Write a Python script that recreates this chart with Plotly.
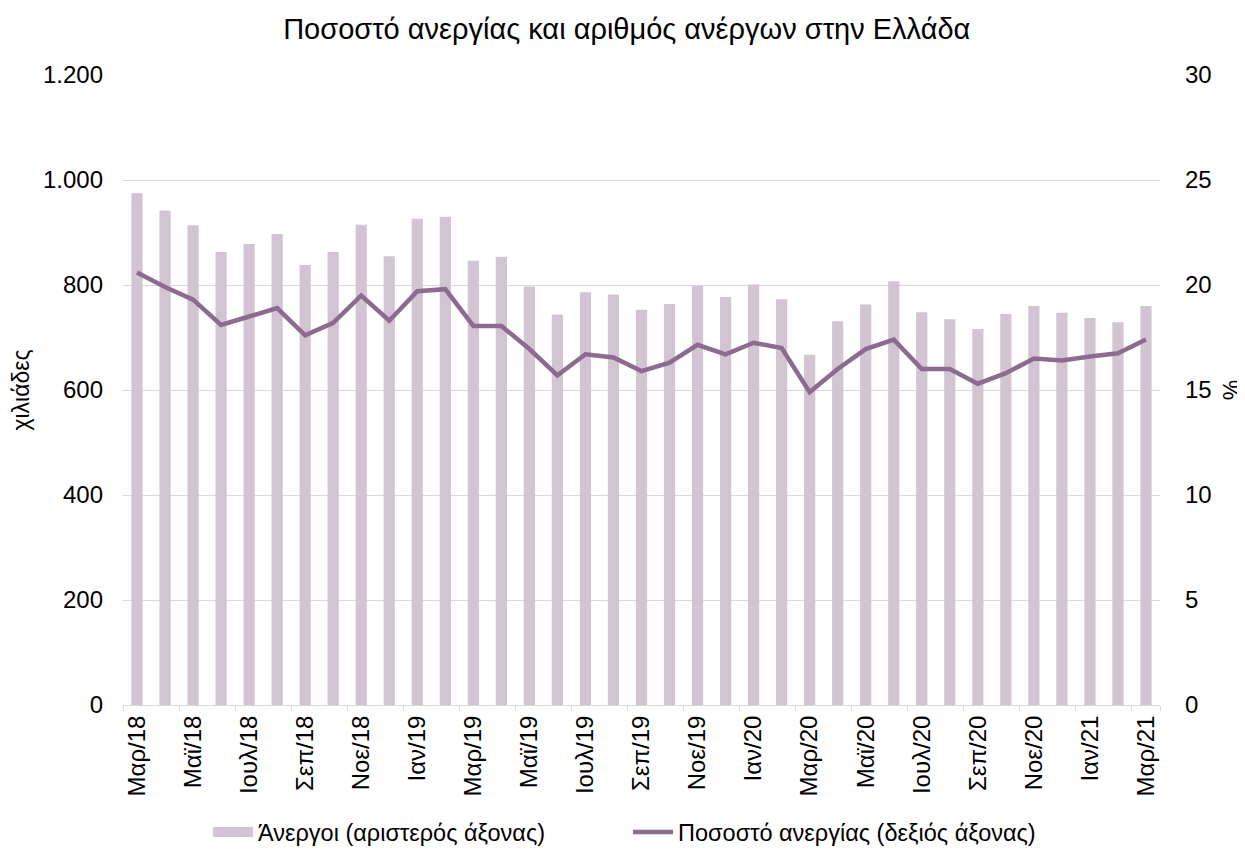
import plotly.graph_objects as go

categories = [
    "Μαρ/18", "Απρ/18", "Μαϊ/18", "Ιουν/18", "Ιουλ/18", "Αυγ/18", "Σεπ/18", "Οκτ/18", "Νοε/18", "Δεκ/18",
    "Ιαν/19", "Φεβ/19", "Μαρ/19", "Απρ/19", "Μαϊ/19", "Ιουν/19", "Ιουλ/19", "Αυγ/19", "Σεπ/19", "Οκτ/19",
    "Νοε/19", "Δεκ/19", "Ιαν/20", "Φεβ/20", "Μαρ/20", "Απρ/20", "Μαϊ/20", "Ιουν/20", "Ιουλ/20", "Αυγ/20",
    "Σεπ/20", "Οκτ/20", "Νοε/20", "Δεκ/20", "Ιαν/21", "Φεβ/21", "Μαρ/21",
]
unemployed = [
    975, 942, 914, 863, 878, 897, 838, 863, 915, 855,
    926, 930, 846, 854, 797, 744, 786, 782, 753, 764,
    798, 777, 801, 773, 667, 731, 763, 807, 748, 735,
    716, 745, 760, 747, 737, 729, 760,
]
rate = [
    20.6, 19.9, 19.3, 18.1, 18.5, 18.9, 17.6, 18.2, 19.5, 18.3,
    19.7, 19.8, 18.05, 18.05, 16.95, 15.7, 16.7, 16.55, 15.9, 16.3,
    17.15, 16.7, 17.25, 17.0, 14.9, 16.0, 16.95, 17.4, 16.0, 16.0,
    15.3, 15.8, 16.5, 16.4, 16.6, 16.75, 17.4,
]
tick_labels = categories[::2]

title = "Ποσοστό ανεργίας και αριθμός ανέργων στην Ελλάδα"
bar_name = "Άνεργοι (αριστερός άξονας)"
line_name = "Ποσοστό ανεργίας (δεξιός άξονας)"
left_title = "χιλιάδες"
right_title = "%"

bar_color = "#d3c4d3"
line_color = "#8d6a8f"

fig = go.Figure()
fig.add_trace(go.Bar(
    x=categories, y=unemployed, name=bar_name,
    marker=dict(color=bar_color, line=dict(width=0)),
    yaxis="y", showlegend=False,
))
# legend proxy: wide rectangle swatch for the bars
fig.add_trace(go.Scatter(
    x=[categories[0]], y=[None], name=bar_name, mode="lines",
    line=dict(color=bar_color, width=13), yaxis="y", showlegend=True,
    hoverinfo="skip",
))
fig.add_trace(go.Scatter(
    x=categories, y=rate, name=line_name, mode="lines",
    line=dict(color=line_color, width=4.5),
    yaxis="y2",
))

font_family = "Liberation Sans, Arial, sans-serif"
fig.update_layout(
    width=1245, height=850,
    paper_bgcolor="white", plot_bgcolor="white",
    separators=",.",
    font=dict(family=font_family, size=22, color="#000000"),
    title=dict(text=title, x=0.497, xanchor="center", y=0.976, yanchor="middle",
               font=dict(size=29, family=font_family, color="#000000")),
    margin=dict(l=115, r=93, t=67, b=153, autoexpand=False),
    bargap=0.6,
    showlegend=True,
    legend=dict(orientation="h", x=0.487, xanchor="center", y=-0.202, yanchor="middle",
                font=dict(size=23.5), traceorder="normal", itemwidth=40,
                entrywidth=365, entrywidthmode="pixels",
                tracegroupgap=0),
    xaxis=dict(
        type="category", categoryorder="array", categoryarray=categories,
        tickmode="array", tickvals=tick_labels, ticktext=tick_labels,
        tickangle=-90, showgrid=False, showline=True, linecolor="#d9d9d9", linewidth=1,
        ticks="outside", ticklen=5, tickcolor="#d9d9d9", tickson="boundaries",
        tickfont=dict(size=24), zeroline=False, automargin=False,
    ),
    yaxis=dict(
        range=[0, 1200], dtick=200, tickformat=",d",
        showgrid=True, gridcolor="#d9d9d9", gridwidth=1, zeroline=False,
        showline=False, ticks="", ticklabelstandoff=19,
        title=dict(text=left_title, font=dict(size=23), standoff=14),
        tickfont=dict(size=24), automargin=False,
    ),
    yaxis2=dict(
        range=[0, 30], dtick=5, overlaying="y", side="right",
        showgrid=False, zeroline=False, showline=False, ticks="", ticklabelstandoff=24,
        title=dict(text=right_title, font=dict(size=23), standoff=13),
        tickfont=dict(size=24), automargin=False,
    ),
)

fig.write_html("out.html")
